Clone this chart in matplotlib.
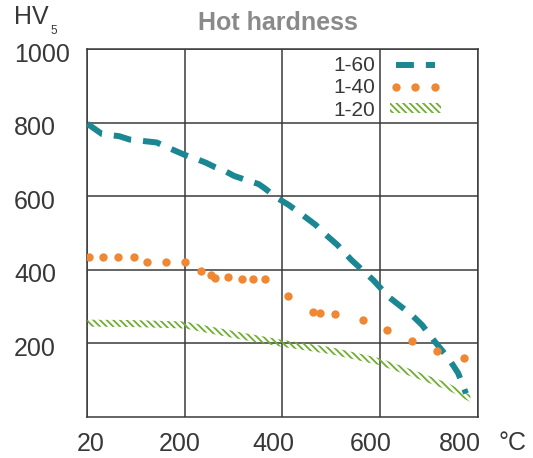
import matplotlib
matplotlib.use('Agg')
import matplotlib.pyplot as plt
import matplotlib.transforms as mtransforms
from matplotlib.lines import Line2D
from matplotlib.patches import Patch
import numpy as np

# ---- data ----
temp_60 = [20, 47, 79, 98, 148, 161, 200, 220, 243, 260, 284, 301, 321, 337, 351,
           364, 387, 413, 441, 468, 489, 513, 541, 586, 617, 665, 686, 712, 740,
           760, 776]
hv_60 = [797, 769, 763, 754, 746, 737, 712, 703, 691, 680, 667, 655, 646, 639, 633,
         621, 597, 576, 549, 522, 495, 467, 427, 372, 327, 277, 250, 205, 160,
         119, 64]

temp_40 = [24, 49, 76, 107, 130, 165, 200, 233, 253, 262, 288, 317, 340, 365,
           412, 462, 477, 507, 564, 615, 666, 717, 772]
hv_40 = [434, 434, 434, 434, 422, 422, 422, 398, 386, 379, 380, 375, 375, 375,
         330, 286, 282, 280, 264, 236, 207, 180, 160]

temp_20 = [20, 100, 200, 300, 400, 500, 600, 680, 740, 785]
hv_20 = [255, 254, 250, 224, 200, 180, 150, 112, 82, 50]

series_labels = ['1-60', '1-40', '1-20']
x_ticks = [20, 200, 400, 600, 800]
x_tick_labels = ['20', '200', '400', '600', '800']
y_ticks = [200, 400, 600, 800, 1000]
y_tick_labels = ['200', '400', '600', '800', '1000']

# ---- style ----
TEAL = '#1b8793'
ORANGE = '#ef8733'
GREEN = '#6fae30'
GRID = '#3a3a3a'
TXT = '#383838'
FONT = ['Liberation Sans', 'DejaVu Sans']

plt.rcParams['font.family'] = FONT
plt.rcParams['hatch.linewidth'] = 1.3


def fwd(t):
    t = np.asarray(t, dtype=float)
    return np.where(t < 200, (t - 20) * 200.0 / 180.0, t)


def inv(p):
    p = np.asarray(p, dtype=float)
    return np.where(p < 200, p * 180.0 / 200.0 + 20, p)


fig = plt.figure(figsize=(5.33, 4.58), dpi=100)
ax = fig.add_axes([87.3 / 533, 1 - 417 / 458, (477.7 - 87.3) / 533, (417 - 49) / 458])
ax.set_xscale('function', functions=(fwd, inv))
ax.set_xlim(20, 800)
ax.set_ylim(0, 1000)

ax.set_xticks(x_ticks)
ax.set_xticklabels(x_tick_labels)
ax.set_yticks(y_ticks)
ax.set_yticklabels(y_tick_labels)
ax.grid(True, color=GRID, linewidth=1.1, zorder=1)
ax.set_axisbelow(True)
for s in ax.spines.values():
    s.set_color(GRID)
    s.set_linewidth(1.1)

ax.tick_params(axis='x', length=0, pad=19.4, labelsize=18, labelcolor=TXT)
ax.tick_params(axis='y', length=0, pad=52.8, labelsize=18, labelcolor=TXT)
for lab in ax.get_xticklabels():
    lab.set_verticalalignment('center')
for lab in ax.get_yticklabels():
    lab.set_horizontalalignment('left')

x_shifts = [3, -5.5, -9, -9, -18]
for lab, dx in zip(ax.get_xticklabels(), x_shifts):
    lab.set_transform(lab.get_transform() +
                      mtransforms.ScaledTranslation(dx / 100, 0, fig.dpi_scale_trans))
for lab in ax.get_yticklabels():
    lab.set_transform(lab.get_transform() +
                      mtransforms.ScaledTranslation(0, -3 / 100, fig.dpi_scale_trans))

# ---- series ----
hv20 = np.asarray(hv_20, dtype=float)
ax.fill_between(temp_20, hv20 - 9.5, hv20 + 9.5, facecolor='none', edgecolor=GREEN,
                hatch='\\\\\\\\\\', linewidth=0, zorder=3)
ax.plot(temp_60, hv_60, color=TEAL, linewidth=4.3, linestyle=(0, (3, 2)),
        dash_capstyle='butt', zorder=4)
ax.plot(temp_40, hv_40, linestyle='none', marker='o', markersize=6,
        color=ORANGE, markeredgecolor='none', zorder=5)

# ---- legend ----
handles = [
    Line2D([], [], color=TEAL, linewidth=4.3, linestyle=(0, (3, 2)), dash_capstyle='butt'),
    Line2D([], [], linestyle='none', marker='o', markersize=6, color=ORANGE,
           markeredgecolor='none'),
    Patch(facecolor='none', edgecolor=GREEN, hatch='\\\\\\\\\\', linewidth=0),
]
leg = ax.legend(handles, series_labels, loc='upper right',
                bbox_to_anchor=((441 - 87.3) / 390.4, 0.98), frameon=False,
                markerfirst=False, numpoints=3, handlelength=2.45, handleheight=0.37,
                handletextpad=0.72, labelspacing=0.15, borderpad=0, borderaxespad=0,
                prop={'family': FONT, 'size': 15})
for t in leg.get_texts():
    t.set_color(TXT)

# ---- titles / labels ----
fig.text(277.6 / 533, 1 - 23 / 458, 'Hot hardness', ha='center', va='center',
         fontsize=18, fontweight='bold', color='#8a8a8a')
fig.text(14 / 533, 1 - 17.5 / 458, 'HV', ha='left', va='center', fontsize=18,
         color=TXT)
fig.text(50 / 533, 1 - 31 / 458, '5', ha='left', va='center', fontsize=8.5,
         color=TXT)
fig.text(512 / 533, 1 - 443 / 458, '°C', ha='center', va='center', fontsize=18,
         color=TXT)

fig.savefig('out.png', dpi=100)
